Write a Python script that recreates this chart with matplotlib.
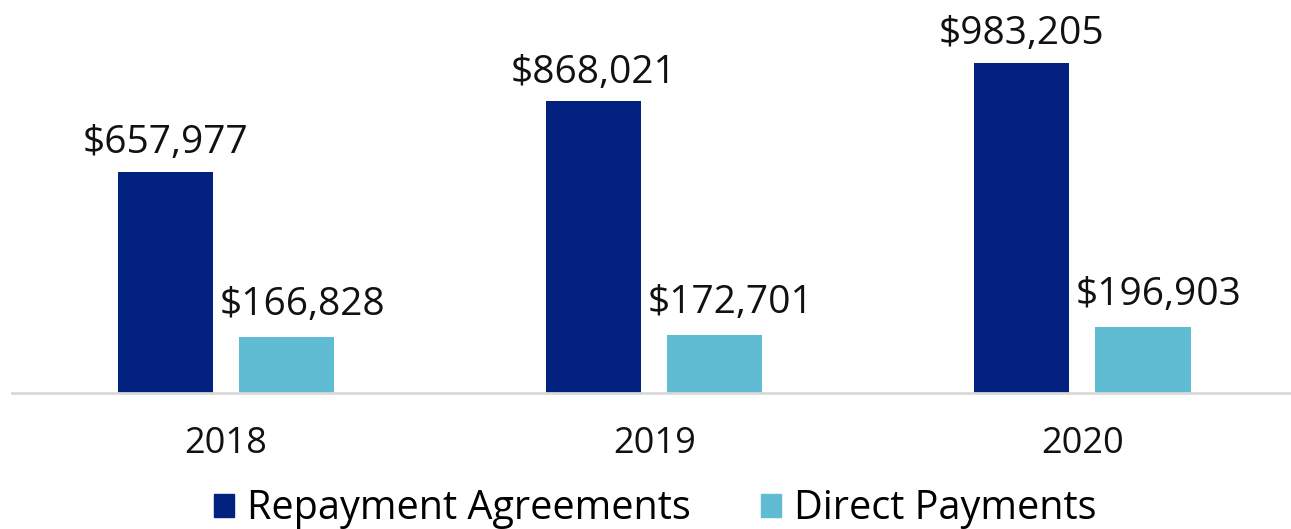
import matplotlib.pyplot as plt
from matplotlib.patches import Patch
import numpy as np

plt.rcParams["font.family"] = ["Open Sans", "DejaVu Sans"]

years = ["2018", "2019", "2020"]
repayment = [657977, 868021, 983205]
direct = [166828, 172701, 196903]

navy = "#03217f"
light = "#5fbcd3"

fig = plt.figure(figsize=(12.91, 5.29), dpi=100)
ax = fig.add_axes([12 / 1291, 1 - 393 / 529, 1 - 12 / 1291, 393 / 529])

x = np.arange(len(years))
w = 0.222
off = 0.1414
b1 = ax.bar(x - off, repayment, w, color=navy)
b2 = ax.bar(x + off, direct, w, color=light)

# direct-payment labels sit a little right of their bars in the original
for bars, vals, dx, dy in [(b1, repayment, 0, 13.5), (b2, direct, 11.5, 15.5)]:
    for bar, v in zip(bars, vals):
        ax.annotate(f"${v:,}", (bar.get_x() + bar.get_width() / 2, v),
                    xytext=(dx, dy), textcoords="offset points",
                    ha="center", va="baseline", fontsize=28, color="#111111")

ax.set_xlim(-0.5, 2.487)
ax.set_ylim(0, 1170000)
ax.set_xticks(x)
ax.set_xticklabels(years, fontsize=26, color="#111111")
ax.tick_params(axis="x", length=0, pad=24)
ax.set_yticks([])
for s in ["top", "left", "right"]:
    ax.spines[s].set_visible(False)
ax.spines["bottom"].set_color("#d9d9d9")
ax.spines["bottom"].set_linewidth(2)

handles = [Patch(color=navy), Patch(color=light)]
fig.legend(handles, ["Repayment Agreements", "Direct Payments"], loc="center",
           bbox_to_anchor=(655 / 1291, 1 - 509 / 529), ncol=2, frameon=False,
           fontsize=28.5, handlelength=0.505, handleheight=0.505,
           handletextpad=0.33, columnspacing=1.77, borderpad=0, borderaxespad=0)

fig.savefig("out.png", dpi=100)
